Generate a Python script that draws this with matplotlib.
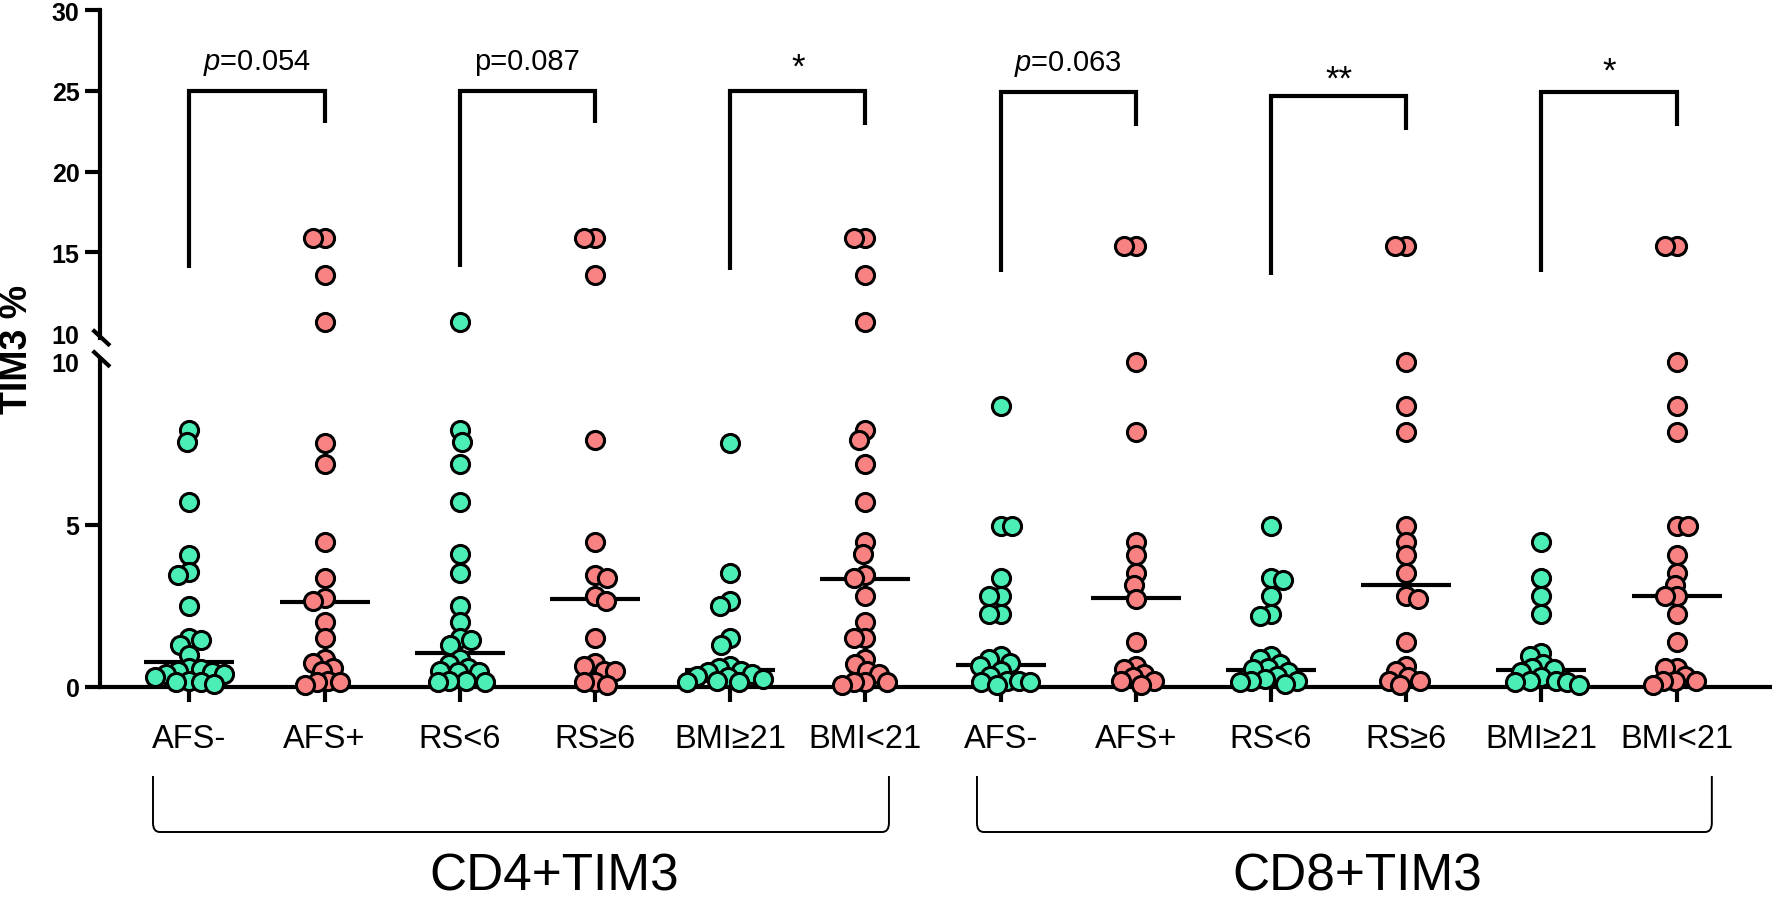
import numpy as np
import matplotlib
matplotlib.use("Agg")
import matplotlib.pyplot as plt
from matplotlib.lines import Line2D
from matplotlib.path import Path
from matplotlib.patches import PathPatch
from matplotlib.transforms import blended_transform_factory

plt.rcParams['font.family'] = ['Liberation Sans', 'DejaVu Sans']
plt.rcParams['mathtext.fontset'] = 'custom'
plt.rcParams['mathtext.it'] = 'Liberation Sans:italic'
plt.rcParams['mathtext.rm'] = 'Liberation Sans'

# group labels
labels = ["AFS-", "AFS+", "RS<6", "RS≥6", "BMI≥21", "BMI<21"] * 2
panels = ["CD4+TIM3", "CD8+TIM3"]

# TIM3 % values
cd4_afs_neg = [7.9, 7.55, 5.7, 4.05, 3.55, 3.45, 2.5, 1.5, 1.45, 1.3, 1.0, 0.6, 0.55, 0.5,
               0.45, 0.4, 0.4, 0.3, 0.2, 0.15, 0.15, 0.1]
cd4_afs_pos = [15.9, 15.9, 13.6, 10.7, 7.5, 6.85, 4.45, 3.35, 2.75, 2.65, 2.0, 1.5, 0.85,
               0.75, 0.6, 0.5, 0.2, 0.15, 0.15, 0.05]
cd4_rs_lo = [10.7, 7.9, 7.55, 6.85, 5.7, 4.1, 3.5, 2.5, 2.0, 1.5, 1.45, 1.3, 0.85, 0.7,
             0.6, 0.5, 0.45, 0.45, 0.2, 0.2, 0.15, 0.15]
cd4_rs_hi = [15.9, 15.9, 13.6, 7.6, 4.45, 3.45, 3.35, 2.8, 2.65, 1.5, 0.75, 0.65, 0.5,
             0.5, 0.15, 0.15, 0.05]
cd4_bmi_hi = [7.5, 3.5, 2.65, 2.5, 1.5, 1.3, 0.65, 0.6, 0.5, 0.45, 0.4, 0.35, 0.3, 0.25,
              0.2, 0.15, 0.15]
cd4_bmi_lo = [15.9, 15.9, 13.6, 10.7, 7.9, 7.6, 6.85, 5.7, 4.45, 4.1, 3.45, 3.35, 2.8,
              2.0, 1.5, 1.5, 0.85, 0.7, 0.5, 0.4, 0.15, 0.15, 0.15, 0.05]
cd8_afs_neg = [8.65, 4.95, 4.95, 3.35, 2.8, 2.8, 2.25, 2.25, 0.95, 0.85, 0.75, 0.65, 0.5,
               0.35, 0.2, 0.2, 0.15, 0.15, 0.05]
cd8_afs_pos = [15.4, 15.4, 10.0, 7.85, 4.45, 4.05, 3.5, 3.15, 2.7, 1.4, 0.65, 0.55, 0.4,
               0.3, 0.2, 0.2, 0.05]
cd8_rs_lo = [4.95, 3.35, 3.3, 2.8, 2.25, 2.2, 0.95, 0.85, 0.7, 0.6, 0.55, 0.45, 0.35,
             0.25, 0.2, 0.2, 0.15, 0.1]
cd8_rs_hi = [15.4, 15.4, 10.0, 8.65, 7.85, 4.95, 4.45, 4.05, 3.5, 2.8, 2.7, 1.4, 0.65,
             0.5, 0.3, 0.2, 0.2, 0.05]
cd8_bmi_hi = [4.45, 3.35, 2.8, 2.25, 1.05, 0.95, 0.7, 0.6, 0.55, 0.45, 0.3, 0.2, 0.2,
              0.15, 0.15, 0.05]
cd8_bmi_lo = [15.4, 15.4, 10.0, 8.65, 7.85, 4.95, 4.95, 4.05, 3.5, 3.15, 2.8, 2.8, 2.25,
              1.4, 0.6, 0.6, 0.35, 0.2, 0.2, 0.2, 0.05]

groups = [cd4_afs_neg, cd4_afs_pos, cd4_rs_lo, cd4_rs_hi, cd4_bmi_hi, cd4_bmi_lo,
          cd8_afs_neg, cd8_afs_pos, cd8_rs_lo, cd8_rs_hi, cd8_bmi_hi, cd8_bmi_lo]
medians = [0.76, 2.63, 1.06, 2.72, 0.53, 3.31, 0.67, 2.73, 0.53, 3.14, 0.53, 2.80]
p_texts = [r"$\mathit{p}$=0.054", "p=0.087", "*", r"$\mathit{p}$=0.063", "**", "*"]

# bracket layout (upper axis units)
br_top = [25.0, 25.0, 25.0, 24.9, 24.7, 24.9]
br_left = [14.0, 14.1, 13.9, 13.8, 13.6, 13.8]
br_right = [23.0, 23.0, 22.9, 22.8, 22.6, 22.8]
txt_y = [26.35, 26.35, 25.85, 26.3, 25.15, 25.6]

GREEN = '#4BEFB6'
PINK = '#F88181'
W, H = 1772, 903

fig = plt.figure(figsize=(W / 100, H / 100), dpi=100)
ax_lo = fig.add_axes([100 / W, (H - 688) / H, 1672 / W, 325 / H])
ax_hi = fig.add_axes([100 / W, (H - 334) / H, 1672 / W, 323 / H])

for ax in (ax_lo, ax_hi):
    ax.set_xlim(-0.661, 11.705)
    ax.spines['top'].set_visible(False)
    ax.spines['right'].set_visible(False)
    ax.spines['left'].set_linewidth(3)
    ax.spines['bottom'].set_linewidth(3)
    ax.patch.set_alpha(0)
    ax.tick_params(axis='y', length=10.8, width=3, labelsize=18, pad=4)

ax_lo.set_ylim(0, 10)
ax_hi.set_ylim(10, 30)
ax_hi.spines['bottom'].set_visible(False)
ax_hi.set_xticks([])
ax_lo.spines['left'].set_bounds(0, 10.1)
ax_hi.spines['left'].set_bounds(9.7, 30)

ax_lo.set_yticks([0, 5, 10])
ax_hi.set_yticks([10, 15, 20, 25, 30])
for ax in (ax_lo, ax_hi):
    for lab in ax.get_yticklabels():
        lab.set_fontweight('bold')
    for t in ax.yaxis.get_major_ticks():
        if t.get_loc() == 10:
            t.tick1line.set_visible(False)

ax_lo.set_xticks(range(12))
ax_lo.set_xticklabels(labels)
ax_lo.tick_params(axis='x', length=10.8, width=3, labelsize=23.5, pad=15)

# axis break marks
for yc in (338.7, 359.8):
    fig.add_artist(Line2D([92.7 / W, 110 / W], [1 - (yc - 8) / H, 1 - (yc + 8) / H],
                          color='black', lw=3, solid_capstyle='butt'))


def swarm_offsets(ypx, min_d=11.5, step=0.5):
    placed = []
    offs = np.zeros(len(ypx))
    for n, i in enumerate(np.argsort(-np.asarray(ypx), kind='stable')):
        y = ypx[i]
        k = 0
        found = None
        while found is None:
            for sign in ((1, -1) if n % 2 == 0 else (-1, 1)):
                dx = sign * k * step
                if all((dx - px) ** 2 + (y - py) ** 2 >= min_d ** 2 for px, py in placed):
                    found = dx
                    break
            k += 1
        placed.append((found, y))
        offs[i] = found
    return offs


px_per_x = ax_lo.transData.transform((1, 0))[0] - ax_lo.transData.transform((0, 0))[0]

for i, vals in enumerate(groups):
    color = GREEN if i % 2 == 0 else PINK
    vals = np.asarray(vals)
    ypx = np.array([(ax_hi if v > 10.05 else ax_lo).transData.transform((0, v))[1] for v in vals])
    xs = i + swarm_offsets(ypx) / px_per_x
    hi = vals > 10.05
    ax_lo.hlines(medians[i], i - 0.333, i + 0.333, color='black', lw=3, zorder=4)
    for ax, m in ((ax_lo, ~hi), (ax_hi, hi)):
        if m.any():
            ax.scatter(xs[m], vals[m], s=170, c=color, edgecolors='black', linewidths=2.2,
                       zorder=5, clip_on=False)

# significance brackets
for k in range(6):
    x0, x1 = 2 * k, 2 * k + 1
    ax_hi.plot([x0, x0, x1, x1], [br_left[k], br_top[k], br_top[k], br_right[k]],
               color='black', lw=3, solid_joinstyle='miter', solid_capstyle='butt', zorder=3)
    fs = 21 if 'p' in p_texts[k] else 25
    ax_hi.text((x0 + x1) / 2, txt_y[k], p_texts[k], ha='center', va='baseline', fontsize=fs)

# panel braces and labels
tr = blended_transform_factory(ax_lo.transData, fig.transFigure)
brace_x = [(-0.269, 5.174), (5.825, 11.26)]
panel_x = [2.70, 8.64]
y_top, y_bot = 1 - 777 / H, 1 - 833 / H
rx, ry = 0.05, 9 / H
for (a, b), px, name in zip(brace_x, panel_x, panels):
    verts = [(a, y_top), (a, y_bot + ry), (a, y_bot), (a + rx, y_bot), (b - rx, y_bot),
             (b, y_bot), (b, y_bot + ry), (b, y_top)]
    codes = [Path.MOVETO, Path.LINETO, Path.CURVE3, Path.CURVE3, Path.LINETO,
             Path.CURVE3, Path.CURVE3, Path.LINETO]
    fig.add_artist(PathPatch(Path(verts, codes), transform=tr, fill=False, lw=1.4,
                             edgecolor='black'))
    fig.text(px, 1 - 891 / H, name, transform=tr, ha='center', va='baseline', fontsize=37)

fig.text(17.5 / W, 1 - 349 / H, "TIM3 %", rotation=90, ha='center', va='center',
         fontsize=27, fontweight='bold')

fig.savefig("out.png", dpi=100)
